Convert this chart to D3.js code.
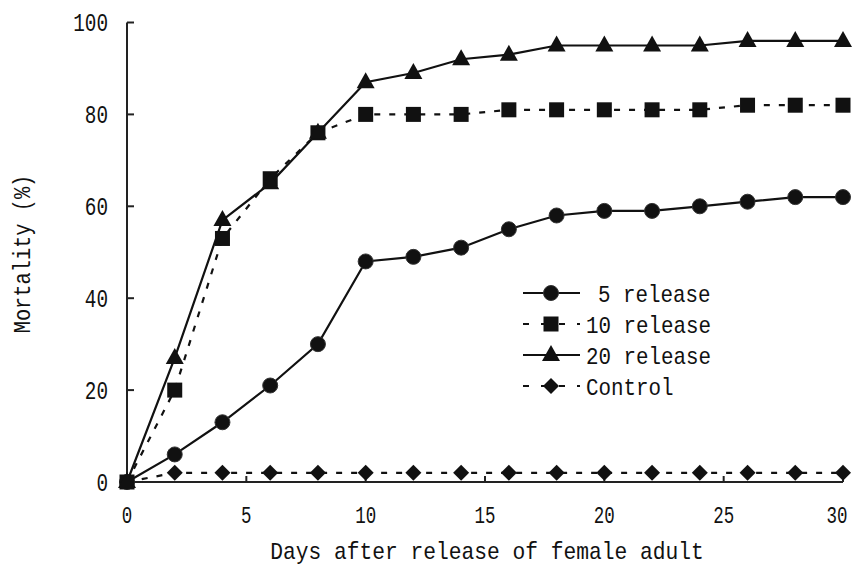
<!DOCTYPE html>
<html>
<head>
<meta charset="utf-8">
<script src="https://cdn.jsdelivr.net/npm/d3@7"></script>
<style>
  html, body { margin: 0; padding: 0; background: #fff; }
  svg { display: block; }
  text { font-family: "Liberation Mono", "DejaVu Sans Mono", monospace; fill: #111; }
</style>
</head>
<body>
<svg id="chart" width="857" height="567"></svg>
<script>
// ---- data ----
const days = [0, 2, 4, 6, 8, 10, 12, 14, 16, 18, 20, 22, 24, 26, 28, 30];
const release5  = [0, 6, 13, 21, 30, 48, 49, 51, 55, 58, 59, 59, 60, 61, 62, 62];
const release10 = [0, 20, 53, 66, 76, 80, 80, 80, 81, 81, 81, 81, 81, 82, 82, 82];
const release20 = [0, 27, 57, 65, 76, 87, 89, 92, 93, 95, 95, 95, 95, 96, 96, 96];
const control   = [0, 2, 2, 2, 2, 2, 2, 2, 2, 2, 2, 2, 2, 2, 2, 2];
const seriesNames = ["5 release", "10 release", "20 release", "Control"];
const xTicks = [0, 5, 10, 15, 20, 25, 30];
const yTicks = [0, 20, 40, 60, 80, 100];
const xTitle = "Days after release of female adult";
const yTitle = "Mortality (%)";

// ---- layout ----
const svg = d3.select("#chart");
const x = d3.scaleLinear().domain([0, 30]).range([127, 843]);
const y = d3.scaleLinear().domain([0, 100]).range([482, 22.5]);

const series = [
  { name: seriesNames[0], values: release5,  dash: null,  marker: "circle",   pad: true },
  { name: seriesNames[1], values: release10, dash: "6,9", marker: "square",   pad: false },
  { name: seriesNames[2], values: release20, dash: null,  marker: "triangle", pad: false },
  { name: seriesNames[3], values: control,   dash: "6,9", marker: "diamond",  pad: false }
];

function fitText(sel, charW) {
  sel.each(function() {
    const n = this.textContent.length;
    d3.select(this).attr("textLength", n * charW).attr("lengthAdjust", "spacingAndGlyphs");
  });
}

// axes
const axisG = svg.append("g");
axisG.append("line").attr("x1", x(0)).attr("x2", x(0)).attr("y1", y(100)).attr("y2", y(0))
  .attr("stroke", "#222").attr("stroke-width", 2);
axisG.append("line").attr("x1", x(0)).attr("x2", x(30)).attr("y1", y(0)).attr("y2", y(0))
  .attr("stroke", "#222").attr("stroke-width", 2);

// y ticks (inside)
axisG.selectAll(".yt").data(yTicks).enter().append("line")
  .attr("x1", x(0)).attr("x2", x(0) + 7).attr("y1", d => y(d)).attr("y2", d => y(d))
  .attr("stroke", "#222").attr("stroke-width", 2);
// x ticks (inside)
axisG.selectAll(".xt").data(xTicks).enter().append("line")
  .attr("x1", d => x(d)).attr("x2", d => x(d)).attr("y1", y(0)).attr("y2", y(0) - 6)
  .attr("stroke", "#222").attr("stroke-width", 2);

// tick labels
axisG.selectAll(".yl").data(yTicks).enter().append("text")
  .attr("x", 108).attr("y", d => y(d) + 8.5)
  .attr("text-anchor", "end").attr("font-size", 25)
  .text(d => d)
  .call(fitText, 11.6);
axisG.selectAll(".xl").data(xTicks).enter().append("text")
  .attr("x", d => Math.min(x(d), 837)).attr("y", 523)
  .attr("text-anchor", "middle").attr("font-size", 24)
  .text(d => d)
  .call(fitText, 10.5);

// axis titles
svg.append("text").attr("x", 487).attr("y", 559).attr("text-anchor", "middle")
  .attr("font-size", 24).text(xTitle).call(fitText, 12.75);
svg.append("text").attr("transform", "translate(30,254) rotate(-90)")
  .attr("text-anchor", "middle").attr("font-size", 23).text(yTitle).call(fitText, 12.2);

// markers
function drawMarker(g, type, cx, cy) {
  if (type === "circle") {
    g.append("circle").attr("cx", cx).attr("cy", cy).attr("r", 7.5)
      .attr("fill", "#111").attr("stroke", "#333").attr("stroke-width", 1);
  } else if (type === "square") {
    g.append("rect").attr("x", cx - 7.5).attr("y", cy - 7.5).attr("width", 15).attr("height", 15)
      .attr("fill", "#111");
  } else if (type === "triangle") {
    g.append("path").attr("d", `M${cx},${cy - 10}L${cx + 9},${cy + 6}L${cx - 9},${cy + 6}Z`)
      .attr("fill", "#111");
  } else if (type === "diamond") {
    g.append("path").attr("d", `M${cx},${cy - 8}L${cx + 8},${cy}L${cx},${cy + 8}L${cx - 8},${cy}Z`)
      .attr("fill", "#111");
  }
}

const line = d3.line().x(d => x(d[0])).y(d => y(d[1]));

// draw in order: control, 5, 10, 20 (20 on top of 10 where they cross)
const order = [3, 0, 1, 2];
order.forEach(i => {
  const s = series[i];
  const pts = days.map((d, k) => [d, s.values[k]]);
  const g = svg.append("g");
  g.append("path").attr("d", line(pts)).attr("fill", "none")
    .attr("stroke", "#111").attr("stroke-width", 2.2)
    .attr("stroke-dasharray", s.dash);
  pts.forEach(p => drawMarker(g, s.marker, x(p[0]), y(p[1])));
});

// legend
const legend = svg.append("g");
const legRows = [293, 324, 355, 386];
series.forEach((s, i) => {
  const ly = legRows[i];
  const g = legend.append("g");
  g.append("line").attr("x1", 523).attr("x2", 580).attr("y1", ly).attr("y2", ly)
    .attr("stroke", "#111").attr("stroke-width", 2.2)
    .attr("stroke-dasharray", s.dash ? "6,12" : null);
  drawMarker(g, s.marker, 551, ly);
  g.append("text").attr("x", s.pad ? 598 : 586).attr("y", ly + 8.5).attr("font-size", 24)
    .text(s.name).call(fitText, 12.5);
});
</script>
</body>
</html>
